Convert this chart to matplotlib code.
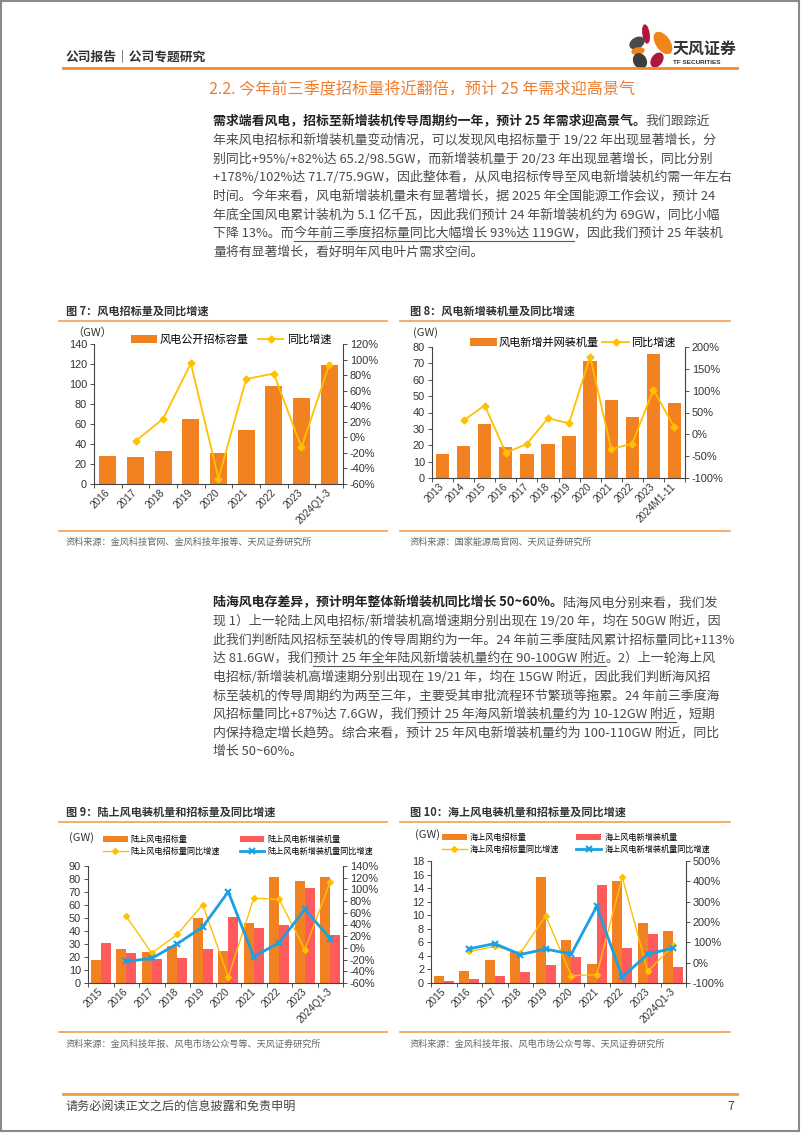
import numpy as np
import matplotlib
matplotlib.use("Agg")
import matplotlib.pyplot as plt
from matplotlib.patches import Rectangle, Ellipse
from matplotlib.lines import Line2D
from matplotlib.transforms import Affine2D
from matplotlib.ticker import FuncFormatter, MultipleLocator

plt.rcParams['font.family'] = ['Liberation Sans', 'Noto Sans CJK SC']
plt.rcParams['axes.unicode_minus'] = False

# ---- data ----
# 图7 风电招标量
years7 = ['2016', '2017', '2018', '2019', '2020', '2021', '2022', '2023', '2024Q1-3']
tender7 = [28.2, 27.3, 33.0, 65.2, 30.7, 54.3, 98.5, 86.3, 119.0]
tender7_yoy = [np.nan, -5, 24, 95, -53, 75, 82, -13, 93]

# 图8 风电新增装机量
years8 = ['2013', '2014', '2015', '2016', '2017', '2018', '2019', '2020', '2021', '2022', '2023', '2024M1-11']
install8 = [14.8, 19.6, 33.0, 18.8, 14.8, 20.9, 25.7, 71.7, 47.8, 37.2, 75.9, 45.7]
install8_yoy = [np.nan, 32, 66, -42, -22, 37, 25, 178, -34, -21, 102, 16]

# 图9 陆上风电
years9 = ['2015', '2016', '2017', '2018', '2019', '2020', '2021', '2022', '2023', '2024Q1-3']
onshore_tender = [17.5, 26.0, 24.0, 28.5, 50.0, 24.4, 45.8, 81.2, 78.4, 81.6]
onshore_install = [31.0, 23.0, 18.3, 19.3, 26.2, 51.0, 42.0, 45.0, 73.0, 37.3]
onshore_tender_yoy = [np.nan, 54, -9, 23, 74, -50, 85, 83, -3, 113]
onshore_install_yoy = [np.nan, -23, -18, 7, 36, 96, -15, 9, 66, 16]

# 图10 海上风电
offshore_tender = [1.1, 1.7, 3.4, 4.6, 15.6, 6.4, 2.8, 15.0, 8.8, 7.6]
offshore_install = [0.25, 0.55, 1.0, 1.6, 2.7, 3.9, 14.4, 5.1, 7.3, 2.4]
offshore_tender_yoy = [np.nan, 55, 80, 47, 230, -64, -59, 420, -43, 85]
offshore_install_yoy = [np.nan, 68, 94, 40, 67, 42, 277, -71, 42, 72]

# text blocks: (segment, style) with b = bold, u = underline, n = normal
para1 = [
    [('需求端看风电，招标至新增装机传导周期约一年，预计 25 年需求迎高景气。', 'b'), ('我们跟踪近', 'n')],
    [('年来风电招标和新增装机量变动情况，可以发现风电招标量于 19/22 年出现显著增长，分', 'n')],
    [('别同比+95%/+82%达 65.2/98.5GW，而新增装机量于 20/23 年出现显著增长，同比分别', 'n')],
    [('+178%/102%达 71.7/75.9GW，因此整体看，从风电招标传导至风电新增装机约需一年左右', 'n')],
    [('时间。今年来看，风电新增装机量未有显著增长，据 2025 年全国能源工作会议，预计 24', 'n')],
    [('年底全国风电累计装机为 5.1 亿千瓦，因此我们预计 24 年新增装机约为 69GW，同比小幅', 'n')],
    [('下降 13%。而', 'n'), ('今年前三季度招标量同比大幅增长 93%达 119GW', 'u'), ('，因此我们预计 25 年装机', 'n')],
    [('量将有显著增长，看好明年风电叶片需求空间。', 'n')],
]
para2 = [
    [('陆海风电存差异，预计明年整体新增装机同比增长 50~60%。', 'b'), ('陆海风电分别来看，我们发', 'n')],
    [('现 1）上一轮陆上风电招标/新增装机高增速期分别出现在 19/20 年，均在 50GW 附近，因', 'n')],
    [('此我们判断陆风招标至装机的传导周期约为一年。24 年前三季度陆风累计招标量同比+113%', 'n')],
    [('达 81.6GW，我们', 'n'), ('预计 25 年全年陆风新增装机量约在 90-100GW 附近', 'u'), ('。2）上一轮海上风', 'n')],
    [('电招标/新增装机高增速期分别出现在 19/21 年，均在 15GW 附近，因此我们判断海风招', 'n')],
    [('标至装机的传导周期约为两至三年，主要受其审批流程环节繁琐等拖累。24 年前三季度海', 'n')],
    [('风招标量同比+87%达 7.6GW，我们', 'n'), ('预计 25 年海风新增装机量约为 10-12GW 附近', 'u'), ('，短期', 'n')],
    [('内保持稳定增长趋势。综合来看，预计 25 年风电新增装机量约为 100-110GW 附近，同比', 'n')],
    [('增长 50~60%。', 'n')],
]

W, H = 802, 1133
fig = plt.figure(figsize=(W / 100, H / 100), dpi=100)
T = Affine2D().scale(1, -1).translate(0, H)  # page pixels, y pointing down

ORANGE = '#F28122'
RED = '#FF5B5B'
YELLOW = '#FFC000'
BLUE = '#1BA1E2'
RULE = '#F2A054'
CJK = ['Noto Sans CJK SC']


def txt(x, y, s, size, color='#333333', weight='normal', ha='left', va='center', family=None):
    return fig.text(x, y, s, transform=T, fontsize=size, color=color, fontweight=weight,
                    ha=ha, va=va, family=family or CJK)


def hline(x0, x1, y, color=RULE, lw=1.2):
    fig.add_artist(Line2D([x0, x1], [y, y], transform=T, color=color, lw=lw))


def paragraph(lines, x0, y0, lh, size):
    r = fig.canvas.get_renderer()
    for i, line in enumerate(lines):
        x = x0
        y = y0 + i * lh
        for s, style in line:
            bold = style == 'b'
            t = txt(x, y, s, size, color='#222222' if bold else '#4a4a4a',
                    weight='bold' if bold else 'normal')
            bb = t.get_window_extent(renderer=r)
            if style == 'u':
                hline(bb.x0, bb.x1, y + 7.5, color='#555555', lw=0.8)
            x = x + bb.width


def chart(box, cats, left_lim, left_step, right_lim, right_step):
    x0, y0, x1, y1 = box
    ax = fig.add_axes([x0 / W, 1 - y1 / H, (x1 - x0) / W, (y1 - y0) / H])
    ax2 = ax.twinx()
    n = len(cats)
    ax.set_xlim(-0.5, n - 0.5)
    ax.set_ylim(*left_lim)
    ax2.set_ylim(*right_lim)
    ax.yaxis.set_major_locator(MultipleLocator(left_step))
    ax2.yaxis.set_major_locator(MultipleLocator(right_step))
    ax2.yaxis.set_major_formatter(FuncFormatter(lambda v, p: f'{v:.0f}%'))
    ax.set_xticks(range(n))
    ax.set_xticklabels(cats, rotation=45, ha='right', va='center', rotation_mode='anchor', fontsize=7.2)
    ax.set_xticks(np.arange(n + 1) - 0.5, minor=True)
    ax.tick_params(axis='x', which='major', length=0, pad=5, colors='#333333')
    ax.tick_params(axis='x', which='minor', length=3, width=0.6, color='#333333')
    for a in (ax, ax2):
        a.tick_params(axis='y', length=3, width=0.6, labelsize=7.9, pad=2, colors='#333333')
    for s in ['top', 'right']:
        ax.spines[s].set_visible(False)
    for s in ['top', 'left', 'bottom']:
        ax2.spines[s].set_visible(False)
    for a, s in [(ax, 'left'), (ax, 'bottom'), (ax2, 'right')]:
        a.spines[s].set_color('#444444')
        a.spines[s].set_linewidth(0.8)
    return ax, ax2


# ---- page frame, header, footer ----
fig.add_artist(Rectangle((1, 1), 798, 1130, transform=T, fill=False, ec='#8a8a8a', lw=1.5))
txt(66, 57, '公司报告｜公司专题研究', 9.2, color='#333333', weight='bold')
hline(63, 737, 68, color='#F08A30', lw=2)
for (cx, cy, w, h, ang, c) in [(646, 34, 6, 18, -8, '#B0173C'), (663, 43, 13, 24, -35, '#F08519'),
                               (637, 43, 10, 15, 60, '#4A4A4A'), (638, 51, 6, 12, 80, '#F08519'),
                               (640, 61, 12, 15, -30, '#3D3D3D'), (657, 60, 10, 15, 35, '#B0173C')]:
    fig.add_artist(Ellipse((cx, cy), w, h, angle=ang, transform=T, color=c))
txt(673, 49, '天风证券', 11.5, color='#333333', weight='bold')
txt(673, 63, 'TF SECURITIES', 4.6, color='#333333', weight='bold', family=['Liberation Sans'])
txt(209, 89, '2.2. 今年前三季度招标量将近翻倍，预计 25 年需求迎高景气', 11.6, color='#ED7D31', weight='medium')

paragraph(para1, 213, 121.7, 18.6, 9.3)
paragraph(para2, 213, 602.7, 18.6, 9.3)

hline(63, 737, 1094, color='#E9A03A', lw=2)
txt(65, 1106, '请务必阅读正文之后的信息披露和免责申明', 8.7, color='#444444')
txt(731, 1106, '7', 8.7, color='#444444', ha='center')

# ---- 图7 ----
txt(66, 311, '图 7：风电招标量及同比增速', 8, weight='bold')
hline(59, 387, 321)
txt(72, 333, '（GW）', 8)
ax, ax2 = chart((94, 344, 343, 484), years7, (0, 140), 20, (-60, 120), 20)
x = np.arange(len(years7))
b = ax.bar(x, tender7, width=0.62, color=ORANGE)
l, = ax2.plot(x, tender7_yoy, color=YELLOW, lw=1.3, marker='D', ms=3.5)
fig.legend([b, l], ['风电公开招标容量', '同比增速'], loc='center left', bbox_to_anchor=(131, 340),
           bbox_transform=T, ncol=2, frameon=False, prop={'family': CJK, 'size': 8},
           handlelength=2.3, handleheight=0.7, handletextpad=0.3, columnspacing=0.8,
           borderpad=0, borderaxespad=0)
hline(59, 387, 531)
txt(66, 542, '资料来源：金风科技官网、金风科技年报等、天风证券研究所', 6.6, color='#666666')

# ---- 图8 ----
txt(410, 311, '图 8：风电新增装机量及同比增速', 8, weight='bold')
hline(400, 730, 321)
txt(413, 333, '(GW)', 8)
ax, ax2 = chart((432, 347, 685, 478), years8, (0, 80), 10, (-100, 200), 50)
x = np.arange(len(years8))
b = ax.bar(x, install8, width=0.63, color=ORANGE)
l, = ax2.plot(x, install8_yoy, color=YELLOW, lw=1.3, marker='D', ms=3.5)
fig.legend([b, l], ['风电新增并网装机量', '同比增速'], loc='center left', bbox_to_anchor=(470, 343),
           bbox_transform=T, ncol=2, frameon=False, prop={'family': CJK, 'size': 8},
           handlelength=2.4, handleheight=0.7, handletextpad=0.2, columnspacing=0.3,
           borderpad=0, borderaxespad=0)
hline(400, 730, 531)
txt(410, 542, '资料来源：国家能源局官网、天风证券研究所', 6.6, color='#666666')

# ---- 图9 ----
txt(66, 812, '图 9：陆上风电装机量和招标量及同比增速', 8, weight='bold')
hline(59, 387, 822)
txt(69, 838, '(GW)', 8)
ax, ax2 = chart((88, 866, 343, 983), years9, (0, 90), 10, (-60, 140), 20)
x = np.arange(len(years9))
b1 = ax.bar(x - 0.2, onshore_tender, width=0.4, color=ORANGE)
b2 = ax.bar(x + 0.2, onshore_install, width=0.4, color=RED)
l1, = ax2.plot(x, onshore_tender_yoy, color=YELLOW, lw=1.0, marker='D', ms=3)
l2, = ax2.plot(x, onshore_install_yoy, color=BLUE, lw=2.0, marker='x', ms=5, mew=1.5)
fig.legend([b1, l1, b2, l2], ['陆上风电招标量', '陆上风电招标量同比增速', '陆上风电新增装机量', '陆上风电新增装机量同比增速'],
           loc='center left', bbox_to_anchor=(103, 845.5), bbox_transform=T, ncol=2, frameon=False,
           prop={'family': CJK, 'size': 5.9}, handlelength=3.0, handleheight=0.8, handletextpad=0.4,
           columnspacing=2.4, labelspacing=0.45, borderpad=0, borderaxespad=0)
hline(59, 387, 1032)
txt(66, 1044, '资料来源：金风科技年报、风电市场公众号等、天风证券研究所', 6.6, color='#666666')

# ---- 图10 ----
txt(410, 812, '图 10：海上风电装机量和招标量及同比增速', 8, weight='bold')
hline(400, 730, 822)
txt(415, 835, '(GW)', 8)
ax, ax2 = chart((431, 861, 686, 983), years9, (0, 18), 2, (-100, 500), 100)
b1 = ax.bar(x - 0.2, offshore_tender, width=0.4, color=ORANGE)
b2 = ax.bar(x + 0.2, offshore_install, width=0.4, color=RED)
l1, = ax2.plot(x, offshore_tender_yoy, color=YELLOW, lw=1.0, marker='D', ms=3)
l2, = ax2.plot(x, offshore_install_yoy, color=BLUE, lw=2.0, marker='x', ms=5, mew=1.5)
fig.legend([b1, l1, b2, l2], ['海上风电招标量', '海上风电招标量同比增速', '海上风电新增装机量', '海上风电新增装机量同比增速'],
           loc='center left', bbox_to_anchor=(442, 843.5), bbox_transform=T, ncol=2, frameon=False,
           prop={'family': CJK, 'size': 5.9}, handlelength=3.0, handleheight=0.8, handletextpad=0.4,
           columnspacing=2.1, labelspacing=0.45, borderpad=0, borderaxespad=0)
hline(400, 730, 1032)
txt(410, 1044, '资料来源：金风科技年报、风电市场公众号等、天风证券研究所', 6.6, color='#666666')

fig.savefig('out.png', dpi=100)
